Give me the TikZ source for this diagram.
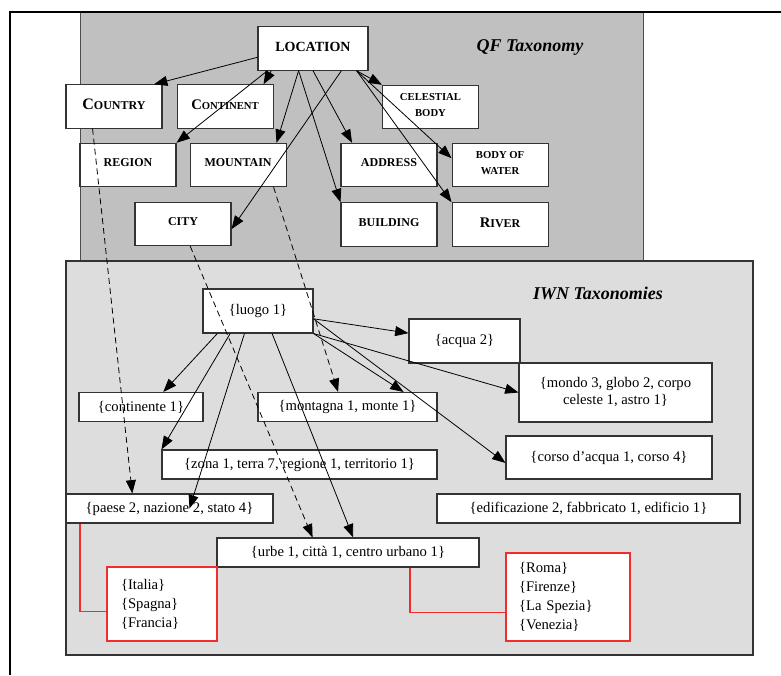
\documentclass[tikz,border=0pt]{standalone}
\usepackage{fontspec}
\setmainfont{Liberation Serif}
\usepackage{tikz}
\usetikzlibrary{arrows.meta,positioning,calc}
\usepackage{xcolor}

\definecolor{qfgrey}{RGB}{192,192,192}
\definecolor{iwngrey}{RGB}{221,221,221}
\definecolor{listred}{RGB}{240,45,45}

\begin{document}
\begin{tikzpicture}[
    x=0.75pt, y=-0.75pt,
    node distance=11.25pt and 10.5pt,
    qfclass/.style={rectangle, draw=black!80, line width=0.8pt, fill=white, minimum width=72pt, minimum height=32.5pt, inner sep=2pt, text depth=3pt, align=center, font=\bfseries\fontsize{9}{11}\selectfont},
    synset/.style={rectangle, draw=black!80, line width=0.8pt, fill=white, minimum height=21.75pt, inner sep=2pt, align=center, font=\fontsize{11}{12.75}\selectfont},
    instances/.style={rectangle, draw=listred, line width=0.9pt, fill=white, inner xsep=10.5pt, align=left, font=\fontsize{11}{14.25}\selectfont},
    paneltitle/.style={font=\bfseries\itshape\fontsize{13.5}{16}\selectfont},
    arrow/.style={line width=0.6pt, -{Triangle[length=10pt,width=7.5pt]}},
    mapping/.style={arrow, dash pattern=on 4.5pt off 3pt},
    extension/.style={line width=0.9pt, draw=listred}
]
\useasboundingbox (0,0) rectangle (781,675);

% QF taxonomy panel
\draw [draw=black!70, line width=0.6pt, fill=qfgrey] (80,12) rectangle (643,261);

\node (location) [qfclass, minimum width=82.5pt, font=\bfseries\fontsize{10.5}{12}\selectfont] at (313,48.5) {LOCATION};
\node (qftitle) [paneltitle] at (530,47) {QF Taxonomy};

% first row
\node (country) [qfclass] at (114,106.5) {{\fontsize{12}{12}\selectfont C}OUNTRY};
\node (continent) [qfclass, right=of country] {{\fontsize{11}{11}\selectfont C}{\fontsize{8}{8}\selectfont ONTINENT}};
\node (celestial) [qfclass, font=\bfseries\fontsize{8}{12.5}\selectfont] at (430.5,107) {CELESTIAL\\BODY};

% second row
\node (region) [qfclass] at (128,165) {REGION};
\node (mountain) [qfclass, right=9.75pt of region] {MOUNTAIN};
\node (address) [qfclass] at (389,165) {ADDRESS};
\node (water) [qfclass, right=of address, font=\bfseries\fontsize{8}{12.5}\selectfont] {BODY OF\\WATER};

% third row
\node (city) [qfclass] at (183,224) {CITY};
\node (building) [qfclass, below=of address] {BUILDING};
\node (river) [qfclass, below=of water] {{\fontsize{11}{11}\selectfont R}IVER};

\draw [arrow] (location.189) -- (country.29);
\draw [arrow] (location.208) -- (continent.30);
\draw [arrow] (location.206) -- (region.north east);
\draw [arrow] (location.237) -- (mountain.30);
\draw [arrow] (location.237) -- (building.north west);
\draw [arrow] (location.270) -- (address.149);
\draw [arrow] (location.322) -- (city.354);
\draw [arrow] (location.333) -- (celestial.north west);
\draw [arrow] (location.333) -- (water.172);
\draw [arrow] (location.333) -- (river.north west);

% IWN taxonomies panel
\draw [draw=black!80, line width=0.8pt, fill=iwngrey] (66,261) rectangle (753,655);

\node (iwntitle) [paneltitle] at (598,293) {IWN Taxonomies};
\node (luogo) [synset, minimum width=82.5pt, minimum height=33pt] at (258,311) {\{luogo 1\}};
\node (acqua) [synset, minimum width=83.25pt, minimum height=33pt] at (464.5,341) {\{acqua 2\}};
\node (mondo) [synset, minimum width=144.75pt, minimum height=44.25pt] at (615.5,392.5) {\{mondo 3, globo 2, corpo\\celeste 1, astro 1\}};
\node (continente) [synset, minimum width=93pt] at (141,407) {\{continente 1\}};
\node (montagna) [synset, minimum width=134.25pt] at (347.5,407) {\{montagna 1, monte 1\}};
\node (corso) [synset, minimum width=154.5pt, minimum height=32.25pt] at (609,457.5) {\{corso d'acqua 1, corso 4\}};
\node (zona) [synset, minimum width=206.25pt] at (299.5,464.5) {\{zona 1, terra 7, regione 1, territorio 1\}};
\node (paese) [synset, minimum width=155.25pt] at (169.5,508.5) {\{paese 2, nazione 2, stato 4\}};
\node (edificio) [synset, minimum width=227.25pt] at (588.5,508.5) {\{edificazione 2, fabbricato 1, edificio 1\}};
\node (urbe) [synset, minimum width=196.5pt] at (348,552.5) {\{urbe 1, città 1, centro urbano 1\}};

% instance lists
\node (italia) [instances, text width=61.5pt, minimum height=55.5pt] at (162,604) {\{Italia\}\\\{Spagna\}\\\{Francia\}};
\node (roma) [instances, inner xsep=9.75pt, text width=73.5pt, minimum height=66pt] at (568,597) {\{Roma\}\\\{Firenze\}\\\{La Spezia\}\\\{Venezia\}};

\draw [arrow] (luogo.209) -- (continente.34);
\draw [arrow] (luogo.219) -- (zona.north west);
\draw [arrow] (luogo.239) -- ($(paese.center)+(20,0)$);
\draw [arrow] (luogo.302) -- (urbe.71);
\draw [arrow] (luogo.352) -- (acqua.172);
\draw [arrow] (luogo.352) -- (corso.183);
\draw [arrow] (luogo.south east) -- (montagna.15);
\draw [arrow] (luogo.south east) -- (mondo.west);

% QF -> IWN mappings
\draw [mapping] (country.226) -- (paese.158);
\draw [mapping] (city.288) -- (urbe.157);
\draw [mapping] (mountain.328) -- (montagna.122);

\draw [extension] ($(paese.south west)+(14.5,0)$) |- (italia.188);
\draw [extension] ($(urbe.south)+(62,0)$) |- (roma.194);

% page frame
\draw [line width=1.6pt] (10,675) -- (10,12) -- (781,12);

\end{tikzpicture}
\end{document}
